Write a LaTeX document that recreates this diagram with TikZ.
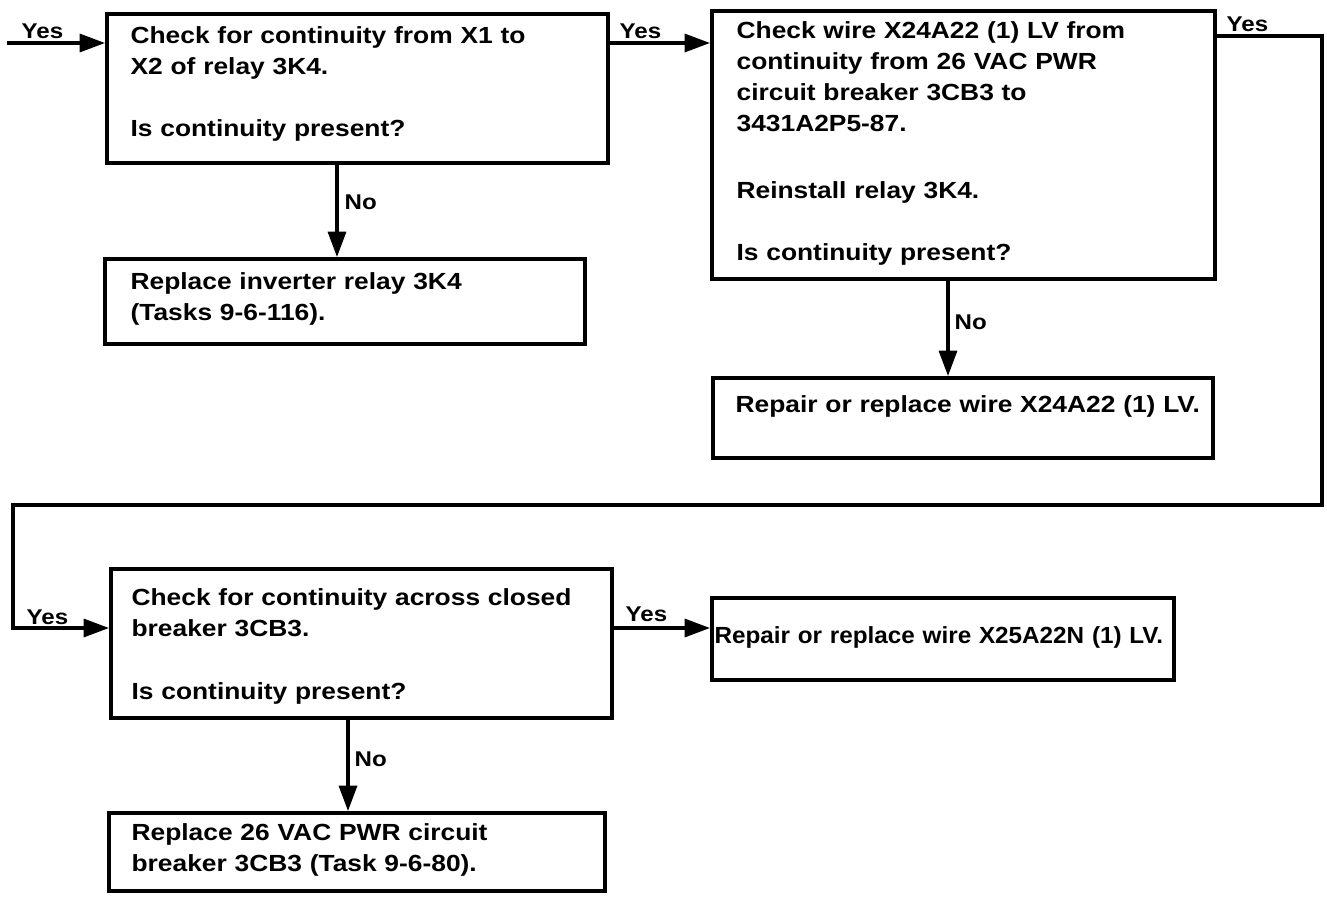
\documentclass[tikz,border=0pt]{standalone}
\usepackage{fontspec}
\setmainfont{Liberation Sans}[FakeStretch=1.13]
\newfontfamily\condfont{Liberation Sans}[FakeStretch=1.04]
\usetikzlibrary{arrows.meta}

\tikzset{
    box/.style={draw, line width=3pt, anchor=north west, inner sep=0pt},
    txt/.style={anchor=base west, align=left, inner sep=0pt, text width=380pt},
    lbl/.style={anchor=base west, inner sep=0pt,
        font=\fontsize{16}{18}\selectfont\bfseries},
}

\begin{document}
\begin{tikzpicture}[
    x=0.75pt, y=-0.75pt,
    >={Triangle[length=19pt, width=13.5pt]},
    font=\fontsize{17.5}{23.25}\selectfont\bfseries,
    line width=2.4pt
]
    \useasboundingbox (0,0) rectangle (1327,896);

    % Boxes
    \node[box, minimum width=375.75pt, minimum height=111.75pt] (chkRelay) at (105,12) {};
    \node[box, minimum width=360pt, minimum height=63.75pt] (repRelay) at (103,257) {};
    \node[box, minimum width=377.25pt, minimum height=201pt] (chkWire) at (710,9) {};
    \node[box, minimum width=375pt, minimum height=60pt] (repWire) at (711,376) {};
    \node[box, minimum width=375.75pt, minimum height=111.75pt] (chkBrk) at (109,567) {};
    \node[box, minimum width=346.5pt, minimum height=61.5pt] (repWireN) at (710,596) {};
    \node[box, minimum width=372pt, minimum height=58.5pt] (repBrk) at (107,811) {};

    % Box texts
    \node[txt] (tChkRelay) at (129,43)
        {Check for continuity from X1 to\\X2 of relay 3K4.\\[23.25pt]Is continuity present?};
    \node[txt] (tRepRelay) at (129,289)
        {Replace inverter relay 3K4\\(Tasks 9-6-116).};
    \node[txt] (tChkWire) at (735,38)
        {Check wire X24A22 (1) LV from\\continuity from 26 VAC PWR\\circuit breaker 3CB3 to\\3431A2P5-87.\\[27pt]Reinstall relay 3K4.\\[23.25pt]Is continuity present?};
    \node[txt] (tRepWire) at (734,412)
        {Repair or replace wire X24A22 (1) LV.};
    \node[txt, font=\fontsize{17.5}{23.25}\condfont\bfseries] (tRepWireN) at (713,643)
        {Repair or replace wire X25A22N (1) LV.};
    \node[txt] (tChkBrk) at (130,605)
        {Check for continuity across closed\\breaker 3CB3.\\[24pt]Is continuity present?};
    \node[txt] (tRepBrk) at (130,840)
        {Replace 26 VAC PWR circuit\\breaker 3CB3 (Task 9-6-80).};

    % Routing points
    \coordinate (entry) at (7,43);
    \coordinate (exitC) at (1322,36);
    \coordinate (loopR) at (1322,505);
    \coordinate (loopL) at (13,505);
    \coordinate (rowD) at (0,628);
    \coordinate (colA) at (337,0);
    \coordinate (colC) at (948,0);
    \coordinate (colD) at (348,0);

    % Yes branches
    \draw[->] (entry) -- (chkRelay.west |- entry);
    \draw[->] (chkRelay.east |- entry) -- (chkWire.west |- entry);
    \draw[->] (chkWire.east |- exitC) -- (exitC) -- (loopR) -- (loopL)
        -- (loopL |- rowD) -- (chkBrk.west |- rowD);
    \draw[->] (chkBrk.east |- rowD) -- (repWireN.west |- rowD);

    % No branches
    \draw[->] (chkRelay.south -| colA) -- (repRelay.north -| colA);
    \draw[->] (chkWire.south -| colC) -- (repWire.north -| colC);
    \draw[->] (chkBrk.south -| colD) -- (repBrk.north -| colD);

    % Labels
    \node[lbl] (yesIn) at ([shift={(13,-5)}]entry) {Yes};
    \node[lbl] (yesA) at ([shift={(8,-5)}]chkRelay.east |- entry) {Yes};
    \node[lbl] (yesC) at ([shift={(8,-5)}]chkWire.east |- exitC) {Yes};
    \node[lbl] (yesLoop) at ([shift={(12,-4)}]loopL |- rowD) {Yes};
    \node[lbl] (yesD) at ([shift={(10,-7)}]chkBrk.east |- rowD) {Yes};
    \node[lbl] (noA) at ([shift={(6,44)}]chkRelay.south -| colA) {No};
    \node[lbl] (noC) at ([shift={(5,48)}]chkWire.south -| colC) {No};
    \node[lbl] (noD) at ([shift={(5,46)}]chkBrk.south -| colD) {No};

\end{tikzpicture}
\end{document}
